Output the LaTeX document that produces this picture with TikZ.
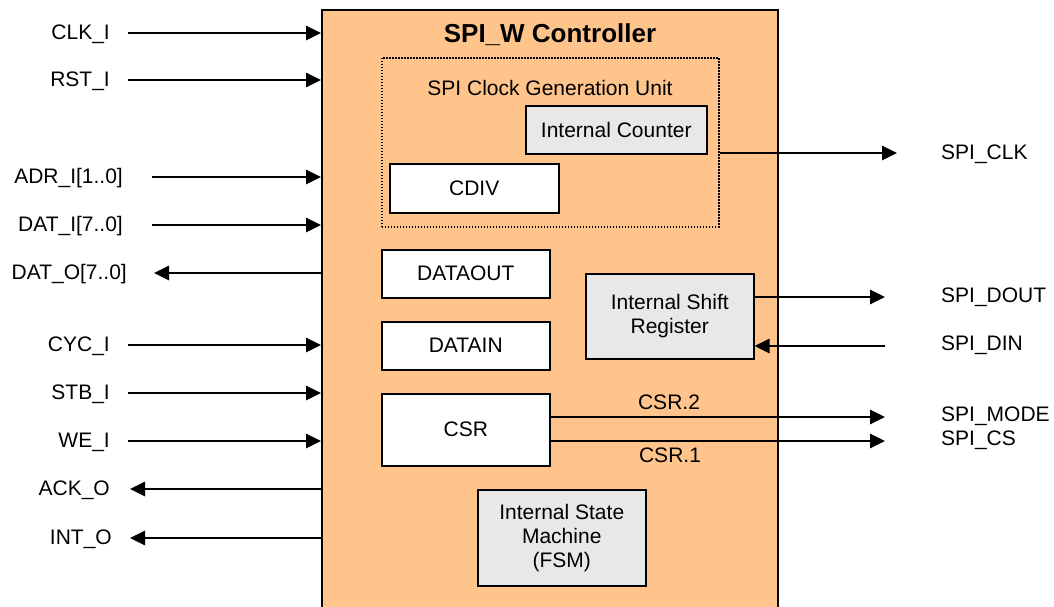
\documentclass[tikz,border=0pt]{standalone}
\usepackage{fontspec}
\setmainfont{Liberation Sans}
\usetikzlibrary{arrows.meta}
\definecolor{ctrlfill}{RGB}{255,196,140}
\definecolor{unitgray}{RGB}{232,232,232}

\begin{document}
\begin{tikzpicture}[x=1pt,y=-1pt,
  txt/.style={font=\fontsize{21}{24}\selectfont},
  lbl/.style={txt, inner sep=0pt, text height=15pt, text depth=0pt},
  reg/.style={txt, draw, line width=1.5pt, fill=white, align=center,
    inner sep=0pt, anchor=north west},
  unit/.style={reg, fill=unitgray},
  sig/.style={line width=1.5pt, -{Triangle[length=15pt,width=14.5pt]}},
]
\useasboundingbox (0,0) rectangle (1054,606);

% controller body (runs off the lower edge)
\node[draw, line width=2pt, fill=ctrlfill, anchor=north west,
      minimum width=456pt, minimum height=640pt, inner sep=0pt] (ctrl) at (321,9) {};
\node[font=\fontsize{26}{30}\selectfont\bfseries, inner sep=0pt] (title) at (550,35) {SPI\_W Controller};

% clock generation unit
\node[draw, line width=1.5pt, dash pattern=on 1.5pt off 1.5pt, anchor=north west,
      minimum width=337pt, minimum height=169pt, inner sep=0pt] (cgu) at (381,57) {};
\node[lbl] (cgutitle) at (550,88) {SPI Clock Generation Unit};
\node[unit, minimum width=181pt, minimum height=48pt] (cnt) at (525,105) {Internal Counter};
\node[reg, minimum width=169pt, minimum height=49pt] (cdiv) at (389,163) {CDIV};

% registers
\node[reg, minimum width=168pt, minimum height=48pt] (dout) at (381,249) {DATAOUT};
\node[reg, minimum width=168pt, minimum height=48pt] (din) at (381,321) {DATAIN};
\node[reg, minimum width=168pt, minimum height=72pt] (csr) at (381,393) {CSR};
\node[unit, minimum width=168pt, minimum height=85pt] (shift) at (585,273) {Internal Shift\\Register};
\node[unit, minimum width=168pt, minimum height=96pt] (fsm) at (477,489) {Internal State\\Machine\\(FSM)};

% bus-side labels
\node[lbl, anchor=east] (clk) at (110,32) {CLK\_I};
\node[lbl, anchor=east] (rst) at (110,79) {RST\_I};
\node[lbl, anchor=east] (adr) at (123,176) {ADR\_I[1..0]};
\node[lbl, anchor=east] (dati) at (123,224) {DAT\_I[7..0]};
\node[lbl, anchor=east] (dato) at (127,272) {DAT\_O[7..0]};
\node[lbl, anchor=east] (cyc) at (110,344) {CYC\_I};
\node[lbl, anchor=east] (stb) at (110,392) {STB\_I};
\node[lbl, anchor=east] (we) at (110,440) {WE\_I};
\node[lbl, anchor=east] (ack) at (110,488) {ACK\_O};
\node[lbl, anchor=east] (int) at (112,537) {INT\_O};

% SPI-side labels
\node[lbl, anchor=west] (sclk) at (941,152) {SPI\_CLK};
\node[lbl, anchor=west] (sdout) at (941,295) {SPI\_DOUT};
\node[lbl, anchor=west] (sdin) at (941,343) {SPI\_DIN};
\node[lbl, anchor=west] (smode) at (941,414) {SPI\_MODE};
\node[lbl, anchor=west] (scs) at (941,438) {SPI\_CS};
\node[lbl] (csr2) at (669,402) {CSR.2};
\node[lbl] (csr1) at (670,455) {CSR.1};

% free ends of the signal lines
\coordinate (clkS) at (128,33);
\coordinate (rstS) at (128,80);
\coordinate (adrS) at (152,177);
\coordinate (datiS) at (152,225);
\coordinate (datoE) at (154,273);
\coordinate (cycS) at (128,345);
\coordinate (stbS) at (128,393);
\coordinate (weS) at (128,441);
\coordinate (ackE) at (130,489);
\coordinate (intE) at (130,538);
\coordinate (sclkE) at (897,153);
\coordinate (sdoutE) at (885,297);
\coordinate (sdinS) at (885,346);
\coordinate (smodeE) at (885,417);
\coordinate (scsE) at (885,441);

% bus signals
\draw[sig] (clkS) -- (clkS -| ctrl.west);
\draw[sig] (rstS) -- (rstS -| ctrl.west);
\draw[sig] (adrS) -- (adrS -| ctrl.west);
\draw[sig] (datiS) -- (datiS -| ctrl.west);
\draw[sig] (datoE -| ctrl.west) -- (datoE);
\draw[sig] (cycS) -- (cycS -| ctrl.west);
\draw[sig] (stbS) -- (stbS -| ctrl.west);
\draw[sig] (weS) -- (weS -| ctrl.west);
\draw[sig] (ackE -| ctrl.west) -- (ackE);
\draw[sig] (intE -| ctrl.west) -- (intE);

% SPI signals
\draw[sig] (sclkE -| cgu.east) -- (sclkE);
\draw[sig] (sdoutE -| shift.east) -- (sdoutE);
\draw[sig] (sdinS) -- (sdinS -| shift.east);
\draw[sig] (smodeE -| csr.east) -- (smodeE);
\draw[sig] (scsE -| csr.east) -- (scsE);
\end{tikzpicture}
\end{document}
